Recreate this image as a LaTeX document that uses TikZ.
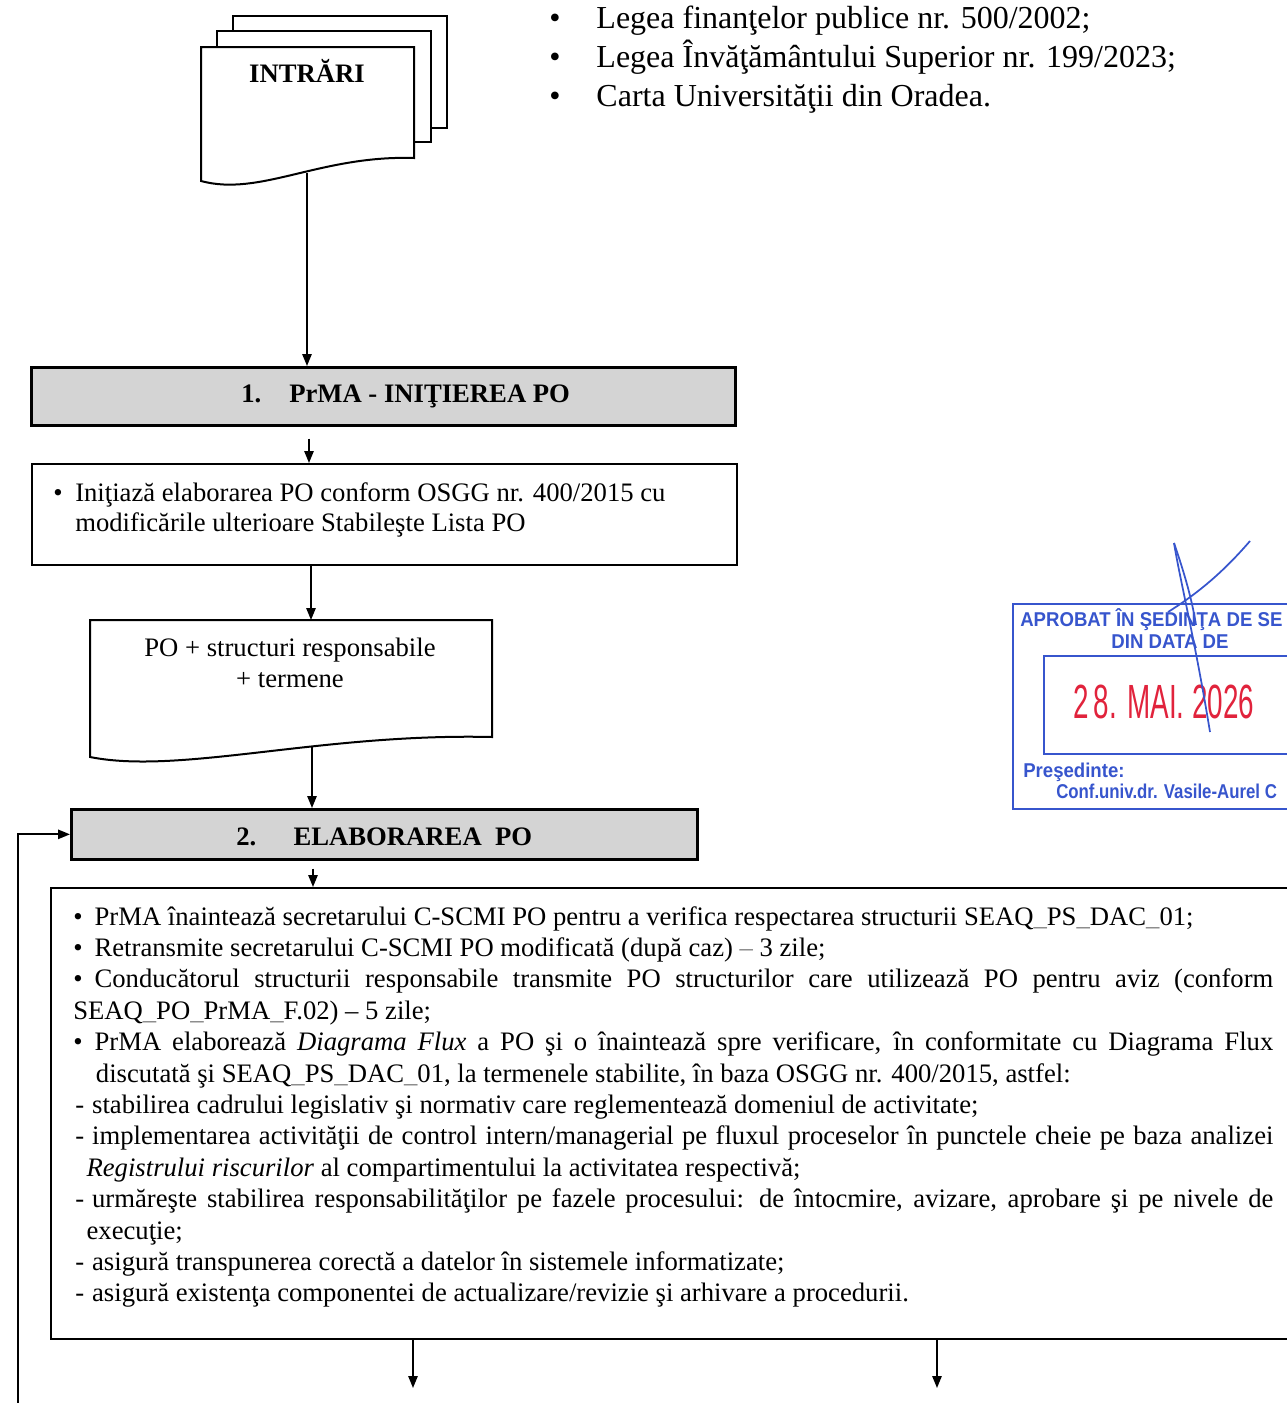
\documentclass[tikz,border=0pt]{standalone}
\usepackage{fontspec}
\setmainfont{Liberation Serif}
\newfontfamily\stampfont{Liberation Sans}
\usetikzlibrary{arrows.meta}
\definecolor{stampblue}{RGB}{55,85,205}
\definecolor{stampred}{RGB}{225,35,60}
\definecolor{barfill}{RGB}{212,212,212}
\newcommand{\tl}[1]{\begin{tabular}[t]{@{}l@{}}#1\end{tabular}}
\newcommand{\tc}[1]{\begin{tabular}[t]{@{}c@{}}#1\end{tabular}}
\newcommand{\us}{{\color{gray}\_}}
\newcommand{\bul}{•\hspace{9pt}}
\newcommand{\dsh}{\hspace{1.5pt}-\hspace{6pt}}
\newsavebox\jbox
\newcommand{\jl}[1]{\sbox\jbox{#1}\ifdim\wd\jbox>900pt \resizebox{900pt}{\height}{\usebox\jbox}\else\makebox[900pt][s]{#1}\fi}
\newcommand{\stx}[1]{\scalebox{0.93}[1]{#1}}
\tikzset{
  conn/.style={line width=1.3pt, -{Triangle[length=9pt,width=7pt]}},
  boxed/.style={draw, line width=1.5pt, fill=white, inner sep=0, anchor=north west},
  bar/.style={draw, line width=2pt, fill=barfill, inner sep=0, anchor=north west},
  txt/.style={inner sep=0, anchor=base west},
  sheet/.style={draw, line width=1.5pt, fill=white, line join=miter},
  stamptxt/.style={inner sep=0, anchor=base west, text=stampblue, font=\stampfont\bfseries\fontsize{15}{17}\selectfont},
}
\begin{document}
\begin{tikzpicture}[x=0.75pt,y=-0.75pt]
\useasboundingbox (0,0) rectangle (1287,1403);
\clip (0,0) rectangle (1287,1403);
\fill[white] (0,0) rectangle (1287,1403);

% INTRARI multi-document
\path[sheet] (233,16) rectangle (447,128);
\path[sheet] (217,31) rectangle (431,142);
\path[sheet] (201,47) -- (414,47) -- (414,158) .. controls (320,155) and (260,197) .. (201,181) -- cycle;
\node[inner sep=0, anchor=base, font=\bfseries\fontsize{20}{24}\selectfont] (intrari) at (307,82) {INTRĂRI};
\coordinate (inbot) at (307,173);

% legal list
\node[txt, font=\fontsize{24}{29.25}\selectfont] (laws) at (549,28)
  {\begin{tabular}[t]{@{}l@{\hspace{27pt}}l@{}}
   • & Legea finanţelor publice nr. 500/2002;\\
   • & Legea Învăţământului Superior nr. 199/2023;\\
   • & Carta Universităţii din Oradea.
   \end{tabular}};

% bar 1
\node[bar, minimum width=528pt, minimum height=43.5pt] (bar1) at (30,366) {};
\node[txt, font=\bfseries\fontsize{20}{24}\selectfont] (bar1t) at (241,402) {1.\hspace{21pt}PrMA - INIŢIEREA PO};

% box 1
\node[boxed, minimum width=528.75pt, minimum height=75.75pt] (box1) at (31,463) {};
\node[txt, font=\fontsize{20}{22.5}\selectfont] (box1t) at (53,501)
  {\begin{tabular}[t]{@{}l@{\hspace{9.5pt}}l@{}}
   • & Iniţiază elaborarea PO conform OSGG nr. 400/2015 cu\\
     & modificările ulterioare Stabileşte Lista PO
   \end{tabular}};

% document 2
\path[sheet] (90,620) -- (492,620) -- (492,737) .. controls (320,733) and (180,775) .. (90,757) -- cycle;
\node[inner sep=0, anchor=base, font=\fontsize{20}{23.25}\selectfont] (doc2t) at (290,656)
  {\tc{PO + structuri responsabile\\ + termene}};
\coordinate (doc2top) at (311,620);
\coordinate (doc2bot) at (312,747);

% bar 2
\node[bar, minimum width=469.5pt, minimum height=37.5pt] (bar2) at (70,808) {};
\node[txt, font=\bfseries\fontsize{20}{24}\selectfont] (bar2t) at (236,845) {2.\hspace{28pt}ELABORAREA\hspace{5pt} PO};

% box 3
\node[boxed, minimum width=945pt, minimum height=338.25pt] (box3) at (50,887) {};
\node[txt, font=\fontsize{20}{23.55}\selectfont] (box3t) at (73,925)
  {\tl{%
   \bul PrMA înaintează secretarului C-SCMI PO pentru a verifica respectarea structurii SEAQ\us PS\us DAC\us 01;\\
   \bul Retransmite secretarului C-SCMI PO modificată (după caz) {\color{gray}–} 3 zile;\\
   \jl{\bul Conducătorul structurii responsabile transmite PO structurilor care utilizează PO pentru aviz (conform}\\
   SEAQ\us PO\us PrMA\us F.02) – 5 zile;\\
   \jl{\bul PrMA elaborează \textit{Diagrama Flux} a PO şi o înaintează spre verificare, în conformitate cu Diagrama Flux}\\
   \hspace{17pt}discutată şi SEAQ\us PS\us DAC\us 01, la termenele stabilite, în baza OSGG nr. 400/2015, astfel:\\
   \dsh stabilirea cadrului legislativ şi normativ care reglementează domeniul de activitate;\\
   \jl{\dsh implementarea activităţii de control intern/managerial pe fluxul proceselor în punctele cheie pe baza analizei}\\
   \hspace{10pt}\textit{Registrului riscurilor} al compartimentului la activitatea respectivă;\\
   \jl{\dsh urmăreşte stabilirea responsabilităţilor pe fazele procesului: de întocmire, avizare, aprobare şi pe nivele de}\\
   \hspace{10pt}execuţie;\\
   \dsh asigură transpunerea corectă a datelor în sistemele informatizate;\\
   \dsh asigură existenţa componentei de actualizare/revizie şi arhivare a procedurii.}};

% connectors
\draw[conn] (inbot) -- (inbot |- bar1.north);
\coordinate (x1) at (309,440);
\draw[conn, shorten <=9pt] (bar1.south -| x1) -- (box1.north -| x1);
\draw[conn] (box1.south -| doc2top) -- (doc2top);
\draw[conn] (doc2bot) -- (doc2bot |- bar2.north);
\coordinate (x2) at (313,870);
\draw[conn, shorten <=6pt] (bar2.south -| x2) -- (box3.north -| x2);
\coordinate (fb) at (18,1403);
\draw[conn] (fb) |- (bar2.west);
\coordinate (o1) at (413,1388);
\coordinate (o2) at (937,1388);
\draw[conn] (box3.south -| o1) -- (o1);
\draw[conn] (box3.south -| o2) -- (o2);

% stamp
\node[draw=stampblue, line width=1.5pt, minimum width=223.5pt, minimum height=153.75pt, anchor=north west, inner sep=0] (stamp) at (1012,603) {};
\node[draw=stampblue, line width=1.5pt, minimum width=200.25pt, minimum height=73.5pt, anchor=north west, inner sep=0] (stampin) at (1043,655) {};
\node[stamptxt] (st1) at (1020,626) {\stx{APROBAT ÎN ŞEDINŢA DE SE}};
\node[stamptxt, anchor=base] (st2) at (1170,648) {\stx{DIN DATA DE}};
\node[inner sep=0, anchor=base, text=stampred, font=\stampfont\fontsize{36}{36}\selectfont] (date) at (1164,718) {\scalebox{0.58}[1]{2\,8. MAI. 2026}};
\node[stamptxt] (st3) at (1023,777) {\stx{Preşedinte:}};
\node[stamptxt] (st4) at (1056,798) {\scalebox{0.84}[1]{Conf.univ.dr. Vasile-Aurel C}};
\draw[stampblue, line width=1.3pt] (1174,543) .. controls (1180,580) and (1195,640) .. (1210,732);
\draw[stampblue, line width=1.3pt] (1174,543) .. controls (1185,575) and (1192,600) .. (1196,625);
\draw[stampblue, line width=1.3pt] (1250,541) .. controls (1225,570) and (1200,592) .. (1168,612);
\end{tikzpicture}
\end{document}
